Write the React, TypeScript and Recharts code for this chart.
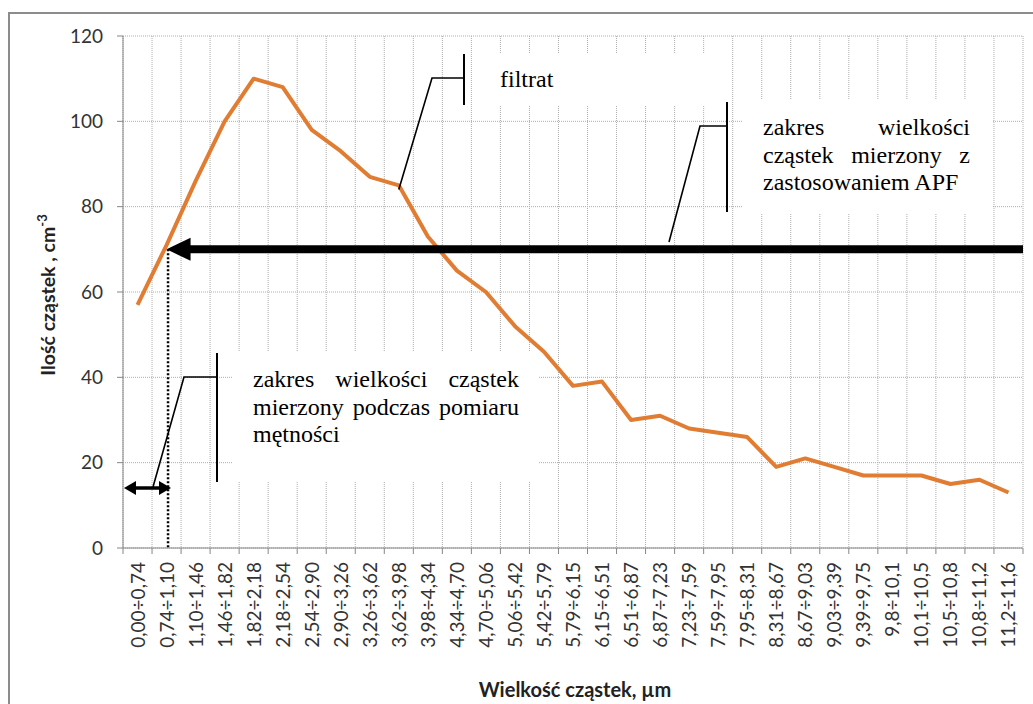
import { ComposedChart, Line, XAxis, YAxis, CartesianGrid } from 'recharts'

const CATEGORIES = [
  '0,00÷0,74', '0,74÷1,10', '1,10÷1,46', '1,46÷1,82', '1,82÷2,18', '2,18÷2,54', '2,54÷2,90',
  '2,90÷3,26', '3,26÷3,62', '3,62÷3,98', '3,98÷4,34', '4,34÷4,70', '4,70÷5,06', '5,06÷5,42',
  '5,42÷5,79', '5,79÷6,15', '6,15÷6,51', '6,51÷6,87', '6,87÷7,23', '7,23÷7,59', '7,59÷7,95',
  '7,95÷8,31', '8,31÷8,67', '8,67÷9,03', '9,03÷9,39', '9,39÷9,75', '9,8÷10,1', '10,1÷10,5',
  '10,5÷10,8', '10,8÷11,2', '11,2÷11,6',
]
const COUNTS = [57, 71, 86, 100, 110, 108, 98, 93, 87, 85, 73, 65, 60, 52, 46, 38, 39, 30, 31, 28, 27, 26, 19, 21, 19, 17, 17, 17, 15, 16, 13]
const Y_TICKS = [0, 20, 40, 60, 80, 100, 120]

const X_TITLE = 'Wielkość cząstek, µm'
const Y_TITLE = 'Ilość cząstek , cm'
const FILTRAT_LINES = ['filtrat']
const APF_LINES = ['zakres wielkości', 'cząstek mierzony z', 'zastosowaniem APF']
const TURBIDITY_LINES = ['zakres wielkości cząstek', 'mierzony podczas pomiaru', 'mętności']

const W = 1033
const H = 704
const PLOT_LEFT = 123
const PLOT_TOP = 36
const PLOT_W = 900
const PLOT_H = 512
const Y_MAX = 120
const BAND = PLOT_W / CATEGORIES.length
const AXIS_FONT = 'Lato, "Open Sans", sans-serif'
const SERIF = 'Liberation Serif'
const SERIF_SIZE = 24

// annotation helpers, same mapping as the chart's scales
const xAt = (i: number) => PLOT_LEFT + (i + 0.5) * BAND
const yAt = (v: number) => PLOT_TOP + PLOT_H * (1 - v / Y_MAX)

const data = CATEGORIES.map((range, i) => ({ range, count: COUNTS[i] }))
const gridX = Array.from({ length: CATEGORIES.length + 1 }, (_, i) => PLOT_LEFT + i * BAND)

let ctx: CanvasRenderingContext2D | null = null
function textWidth(s: string) {
  if (!ctx) ctx = document.createElement('canvas').getContext('2d')
  if (!ctx) return s.length * SERIF_SIZE * 0.45
  ctx.font = `${SERIF_SIZE}px "${SERIF}"`
  return ctx.measureText(s).width
}

function XTick(props: any) {
  const { x, y, payload, index } = props
  const last = index === CATEGORIES.length - 1
  return (
    <g>
      <line x1={x - BAND / 2} x2={x - BAND / 2} y1={y} y2={y + 6} stroke="#868686" />
      {last && <line x1={x + BAND / 2} x2={x + BAND / 2} y1={y} y2={y + 6} stroke="#868686" />}
      <text
        transform={`translate(${x + 7},${y + 14}) rotate(-90)`}
        textAnchor="end"
        fontFamily={AXIS_FONT}
        fontSize={19}
        fill="#333"
      >
        {payload.value}
      </text>
    </g>
  )
}

// justified paragraph, last line left aligned
function Paragraph({ x, y, width, lines }: { x: number; y: number; width: number; lines: string[] }) {
  return (
    <g fontFamily={`"${SERIF}", serif`} fontSize={SERIF_SIZE} fill="#000">
      {lines.map((line, i) => {
        const by = y + i * 27.5
        const words = line.split(' ')
        if (i === lines.length - 1 || words.length < 2) {
          return <text key={i} x={x} y={by}>{line}</text>
        }
        const ws = words.map(textWidth)
        const gap = (width - ws.reduce((a, b) => a + b, 0)) / (words.length - 1)
        let cx = x
        return (
          <g key={i}>
            {words.map((w, j) => {
              const wx = cx
              cx += ws[j] + gap
              return <text key={j} x={wx} y={by}>{w}</text>
            })}
          </g>
        )
      })}
    </g>
  )
}

export default function App() {
  const arrowY = yAt(70)
  const tipX = xAt(1)
  return (
    <div style={{ position: 'absolute', left: 0, top: 0, width: W, height: H, overflow: 'hidden', background: '#fff' }}>
      <div
        style={{
          position: 'absolute',
          left: 8,
          top: 12,
          width: W + 40,
          height: H + 40,
          borderLeft: '2px solid #8c8c8c',
          borderTop: '2px solid #8c8c8c',
        }}
      />
      <div style={{ position: 'absolute', left: 0, top: 0 }}>
        <ComposedChart width={W} height={H} data={data} margin={{ top: PLOT_TOP, right: W - PLOT_LEFT - PLOT_W, bottom: 46, left: 63 }}>
          <CartesianGrid
            stroke="#adadad"
            strokeDasharray="1 1"
            verticalPoints={gridX}
            horizontal
            vertical
          />
          <XAxis
            dataKey="range"
            scale="band"
            interval={0}
            height={110}
            tickLine={false}
            tickSize={0}
            tickMargin={0}
            axisLine={{ stroke: '#868686' }}
            tick={<XTick />}
          />
          <YAxis
            width={60}
            domain={[0, Y_MAX]}
            ticks={Y_TICKS}
            tickSize={6}
            tickMargin={14}
            axisLine={{ stroke: '#868686' }}
            tickLine={{ stroke: '#868686' }}
            tick={{ fontFamily: AXIS_FONT, fontSize: 19, fill: '#333' }}
          />
          <Line
            type="linear"
            dataKey="count"
            stroke="#E07D33"
            strokeWidth={4}
            strokeLinejoin="round"
            dot={false}
            isAnimationActive={false}
          />
        </ComposedChart>
      </div>

      <svg width={W} height={H} style={{ position: 'absolute', left: 0, top: 0, pointerEvents: 'none' }}>
        {/* text boxes */}
        <rect x={475} y={53} width={230} height={53} fill="#fff" />
        <rect x={743} y={100} width={250} height={113} fill="#fff" />
        <rect x={232} y={352} width={306} height={130} fill="#fff" />
        <Paragraph x={500} y={86.7} width={150} lines={FILTRAT_LINES} />
        <Paragraph x={763} y={135} width={207} lines={APF_LINES} />
        <Paragraph x={253} y={387} width={266} lines={TURBIDITY_LINES} />

        {/* callout leaders */}
        <g stroke="#000" fill="none">
          <line x1={464} y1={54} x2={464} y2={105} strokeWidth={2} />
          <polyline points={`464,78 432,78 ${xAt(9)},${yAt(84)}`} strokeWidth={1.6} />
          <line x1={727} y1={102} x2={727} y2={212} strokeWidth={2} />
          <polyline points={`727,126 700,126 669,242`} strokeWidth={1.6} />
          <line x1={217} y1={353} x2={217} y2={482} strokeWidth={2} />
          <polyline points={`217,377 184,377 153,487`} strokeWidth={1.6} />
        </g>

        {/* range arrow at 70 */}
        <line x1={tipX + 22} y1={arrowY} x2={PLOT_LEFT + PLOT_W} y2={arrowY} stroke="#000" strokeWidth={8} />
        <polygon points={`${tipX},${arrowY} ${tipX + 24},${arrowY - 11.5} ${tipX + 24},${arrowY + 11.5}`} fill="#000" />
        <line x1={tipX + 1.5} y1={arrowY} x2={tipX + 1.5} y2={PLOT_TOP + PLOT_H} stroke="#000" strokeWidth={2.5} strokeDasharray="2 2" />

        {/* double arrow */}
        <line x1={133} y1={488} x2={162} y2={488} stroke="#000" strokeWidth={3.5} />
        <polygon points="124,488 136,481 136,495" fill="#000" />
        <polygon points="171,488 159,481 159,495" fill="#000" />

        {/* axis titles */}
        <text x={PLOT_LEFT + PLOT_W / 2 + 2} y={697} textAnchor="middle" fontFamily={AXIS_FONT} fontWeight={700} fontSize={20} fill="#222">
          {X_TITLE}
        </text>
        <text transform={`translate(55,${PLOT_TOP + PLOT_H / 2 + 3}) rotate(-90)`} textAnchor="middle" fontFamily={AXIS_FONT} fontWeight={700} fontSize={19.5} fill="#222">
          {Y_TITLE}
          <tspan fontSize={13} dy={-8}>-3</tspan>
        </text>
      </svg>
    </div>
  )
}
